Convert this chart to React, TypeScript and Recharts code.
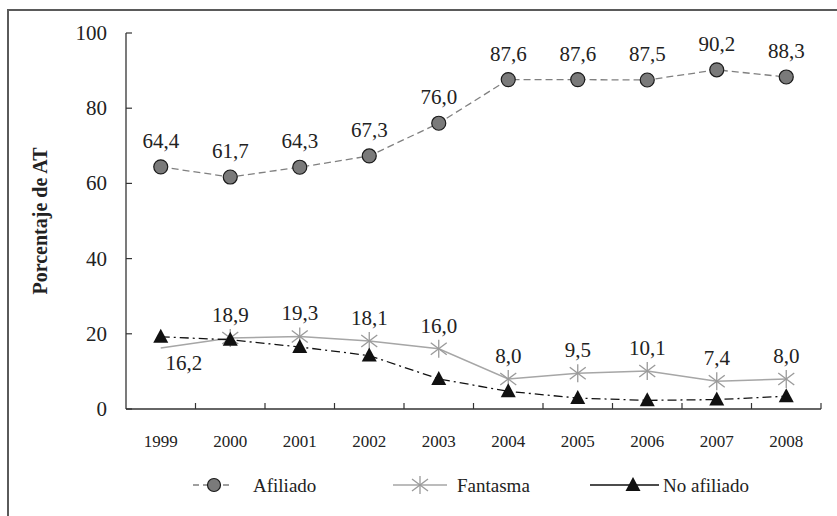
import React from "react";
import { LineChart, Line, XAxis, YAxis, LabelList, Label } from "recharts";

const years = [1999, 2000, 2001, 2002, 2003, 2004, 2005, 2006, 2007, 2008];
const afiliado = [64.4, 61.7, 64.3, 67.3, 76.0, 87.6, 87.6, 87.5, 90.2, 88.3];
const fantasma = [16.2, 18.9, 19.3, 18.1, 16.0, 8.0, 9.5, 10.1, 7.4, 8.0];
const noAfiliado = [19.2, 18.4, 16.5, 14.2, 8.0, 4.7, 2.9, 2.3, 2.5, 3.4];
const yTicks = [0, 20, 40, 60, 80, 100];
// x tick marks sit between the years
const xTickMarks = [1999.5, 2000.5, 2001.5, 2002.5, 2003.5, 2004.5, 2005.5, 2006.5, 2007.5, 2008.5];

const data = years.map((year, i) => ({
  year,
  afiliado: afiliado[i],
  fantasma: fantasma[i],
  noAfiliado: noAfiliado[i],
}));

const FONT = "Liberation Serif";
const TEXT = "#222";

const fmt = (v: number) => v.toFixed(1).replace(".", ",");

const txt = (size: number, extra: any = {}) => ({
  style: { fontFamily: FONT, fontSize: size, fill: TEXT, ...extra },
});

function star(cx: number, cy: number, color: string, key?: string) {
  return (
    <g key={key} stroke={color} strokeWidth={1.3}>
      <line x1={cx} y1={cy - 9} x2={cx} y2={cy + 9} />
      <line x1={cx - 8} y1={cy - 6} x2={cx + 8} y2={cy + 6} />
      <line x1={cx - 8} y1={cy + 6} x2={cx + 8} y2={cy - 6} />
    </g>
  );
}

function triangle(cx: number, cy: number, key?: string) {
  return (
    <path
      key={key}
      d={`M${cx},${cy - 8} L${cx + 7.5},${cy + 6} L${cx - 7.5},${cy + 6} Z`}
      fill="#111"
    />
  );
}

const XTick = (props: any) => {
  const { x, y, payload } = props;
  if (Number.isInteger(payload.value)) {
    return (
      <text x={x} y={y + 32} textAnchor="middle" dominantBaseline="central" {...txt(17)}>
        {payload.value}
      </text>
    );
  }
  return <line x1={x} y1={y} x2={x} y2={y - 6} stroke="#333" strokeWidth={1.2} />;
};

const YTick = (props: any) => {
  const { x, y, payload } = props;
  return (
    <g>
      <line x1={x} y1={y} x2={x + 6} y2={y} stroke="#333" strokeWidth={1.2} />
      <text x={x - 19} y={y} textAnchor="end" dominantBaseline="central" {...txt(21)}>
        {payload.value}
      </text>
    </g>
  );
};

const YLabel = (props: any) => {
  const vb = props.viewBox || {};
  const cy = (vb.y || 0) + (vb.height || 0) / 2;
  return (
    <text
      x={40}
      y={cy}
      transform={`rotate(-90, 40, ${cy})`}
      textAnchor="middle"
      dominantBaseline="central"
      {...txt(20, { fontWeight: "bold" })}
    >
      Porcentaje de AT
    </text>
  );
};

const afiliadoLabel = (props: any) => {
  const { x, y, value, index } = props;
  return (
    <text key={`al-${index}`} x={x} y={y - 26} textAnchor="middle" dominantBaseline="central" {...txt(21)}>
      {fmt(value)}
    </text>
  );
};

const fantasmaLabel = (props: any) => {
  const { x, y, value, index } = props;
  const below = index === 0;
  return (
    <text
      key={`fl-${index}`}
      x={below ? x + 23 : x}
      y={below ? y + 15 : y - 23}
      textAnchor="middle"
      dominantBaseline="central"
      {...txt(21)}
    >
      {fmt(value)}
    </text>
  );
};

const fantasmaDot = (props: any) => {
  const { cx, cy, index } = props;
  if (index === 0) return <g key={`fd-${index}`} />;
  return star(cx, cy, "#9a9a9a", `fd-${index}`);
};

const noAfiliadoDot = (props: any) => {
  const { cx, cy, index } = props;
  return triangle(cx, cy, `nd-${index}`);
};

function LegendOverlay() {
  const y = 485;
  return (
    <svg width={837} height={516} style={{ position: "absolute", left: 0, top: 0, pointerEvents: "none" }}>
      <line x1={193} y1={y} x2={232} y2={y} stroke="#808080" strokeWidth={1.3} strokeDasharray="6 4" />
      <circle cx={214} cy={y} r={6.5} fill="#7a7a7a" stroke="#1a1a1a" strokeWidth={1.2} />
      <text x={253} y={y} dominantBaseline="central" {...txt(19)}>
        Afiliado
      </text>
      <line x1={393} y1={y} x2={447} y2={y} stroke="#a6a6a6" strokeWidth={1.5} />
      {star(420, y, "#9a9a9a")}
      <text x={457} y={y} dominantBaseline="central" {...txt(19)}>
        Fantasma
      </text>
      <line x1={590} y1={y} x2={659} y2={y} stroke="#111" strokeWidth={1.5} />
      {triangle(633, y)}
      <text x={663} y={y} dominantBaseline="central" {...txt(19)}>
        No afiliado
      </text>
    </svg>
  );
}

export default function App() {
  return (
    <div style={{ position: "absolute", left: 0, top: 0, width: 837, height: 516, overflow: "hidden", background: "#fff" }}>
      <div
        style={{
          position: "absolute",
          left: 7,
          top: 9,
          width: 900,
          height: 600,
          borderTop: "2px solid #5a5a5a",
          borderLeft: "2px solid #5a5a5a",
        }}
      />
      <LineChart width={837} height={516} data={data} margin={{ top: 33, right: 16, bottom: 67, left: 0 }}>
        <XAxis
          dataKey="year"
          type="number"
          domain={[1998.5, 2008.5]}
          ticks={[...years, ...xTickMarks]}
          interval={0}
          tick={<XTick />}
          tickLine={false}
          tickSize={0}
          tickMargin={0}
          axisLine={{ stroke: "#333", strokeWidth: 1.3 }}
          height={40}
        />
        <YAxis
          type="number"
          domain={[0, 100]}
          ticks={yTicks}
          interval={0}
          tick={<YTick />}
          tickLine={false}
          tickSize={0}
          tickMargin={0}
          axisLine={{ stroke: "#333", strokeWidth: 1.3 }}
          width={126}
        >
          <Label content={<YLabel />} />
        </YAxis>
        <Line
          dataKey="fantasma"
          stroke="#a6a6a6"
          strokeWidth={1.5}
          dot={fantasmaDot}
          activeDot={false}
          isAnimationActive={false}
        >
          <LabelList dataKey="fantasma" content={fantasmaLabel} />
        </Line>
        <Line
          dataKey="noAfiliado"
          stroke="#111"
          strokeWidth={1.3}
          strokeDasharray="9 4 2 4"
          dot={noAfiliadoDot}
          activeDot={false}
          isAnimationActive={false}
        />
        <Line
          dataKey="afiliado"
          stroke="#808080"
          strokeWidth={1.3}
          strokeDasharray="7 4"
          dot={{ r: 7, fill: "#7a7a7a", stroke: "#1a1a1a", strokeWidth: 1.2, strokeDasharray: "" }}
          activeDot={false}
          isAnimationActive={false}
        >
          <LabelList dataKey="afiliado" content={afiliadoLabel} />
        </Line>
      </LineChart>
      <LegendOverlay />
    </div>
  );
}
